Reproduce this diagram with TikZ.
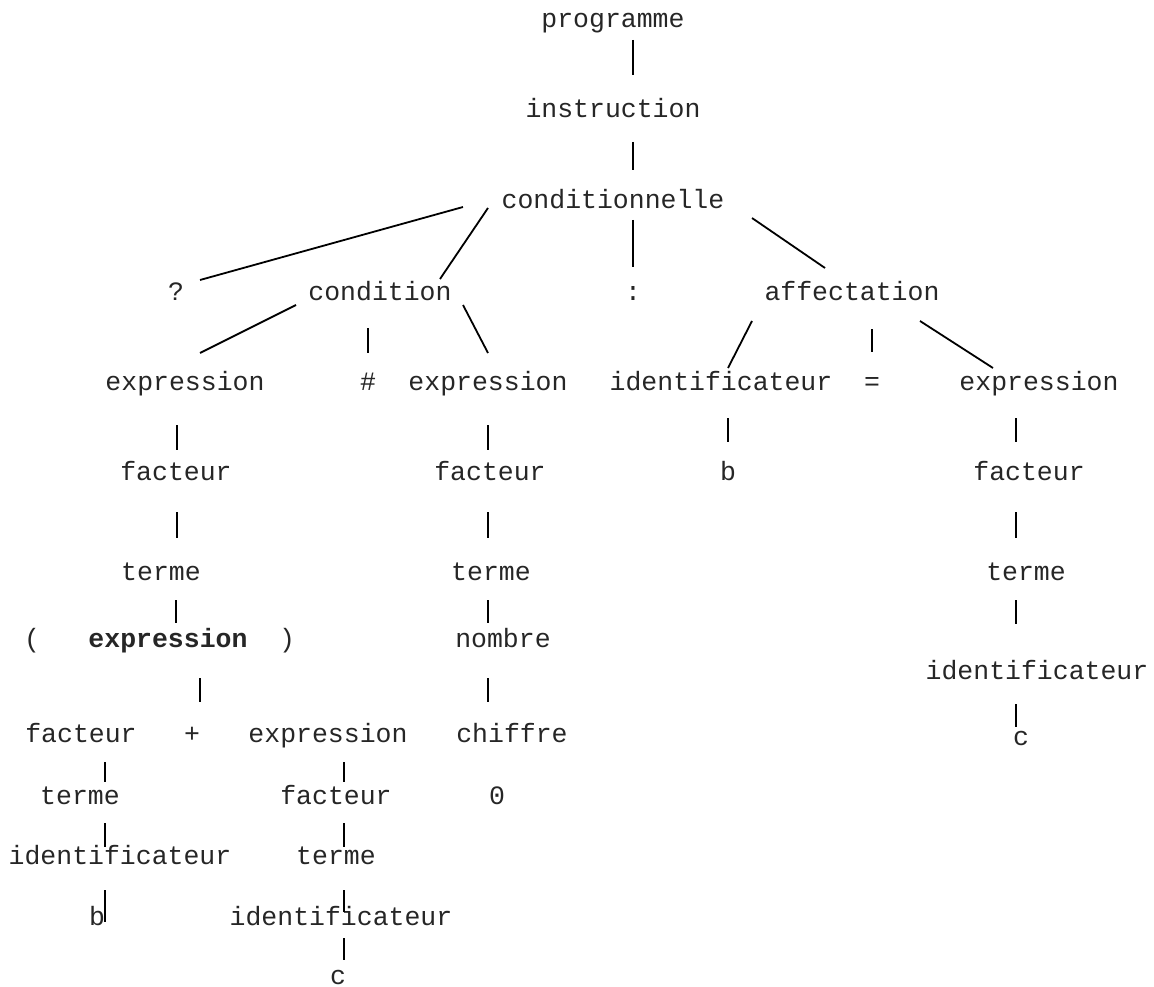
\documentclass[tikz,border=0pt]{standalone}
\usepackage{fontspec}
\setmonofont{Liberation Mono}
\begin{document}
\begin{tikzpicture}[x=1pt,y=-1pt,
  lbl/.style={anchor=base,inner sep=0pt,font=\fontsize{26.5}{30}\selectfont\ttfamily,text=black!85},
  edge/.style={line width=1.8pt,black}]
\useasboundingbox (0,0) rectangle (1154,987);
% nodes
\node[lbl] (prog) at (613,28) {programme};
\node[lbl] (instr) at (613,118) {instruction};
\node[lbl] (cond1) at (613,209) {conditionnelle};
\node[lbl] (q) at (176,300) {?};
\node[lbl] (cond) at (380,300) {condition};
\node[lbl] (colon) at (633,300) {:};
\node[lbl] (aff) at (852,300) {affectation};
\node[lbl] (e1) at (185,390) {expression};
\node[lbl] (hash) at (368,390) {\#};
\node[lbl] (e2) at (488,390) {expression};
\node[lbl] (id1) at (721,390) {identificateur};
\node[lbl] (eq) at (872,390) {=};
\node[lbl] (e3) at (1039,390) {expression};
\node[lbl] (f1) at (176,480) {facteur};
\node[lbl] (f2) at (490,480) {facteur};
\node[lbl] (b1) at (728,480) {b};
\node[lbl] (f3) at (1029,480) {facteur};
\node[lbl] (t1) at (161,580) {terme};
\node[lbl] (t2) at (491,580) {terme};
\node[lbl] (t3) at (1026,580) {terme};
\node[lbl] (lp) at (32,647) {(};
\node[lbl,font=\fontsize{26.5}{30}\selectfont\ttfamily\bfseries] (eb) at (168,647) {expression};
\node[lbl] (rp) at (287,647) {)};
\node[lbl] (nb) at (503,647) {nombre};
\node[lbl] (id2) at (1037,679) {identificateur};
\node[lbl] (f4) at (81,742) {facteur};
\node[lbl] (plus) at (192,742) {+};
\node[lbl] (e4) at (328,742) {expression};
\node[lbl] (ch) at (512,742) {chiffre};
\node[lbl] (c1) at (1021,745) {c};
\node[lbl] (t4) at (80,804) {terme};
\node[lbl] (f5) at (336,804) {facteur};
\node[lbl] (zero) at (497,804) {0};
\node[lbl] (id3) at (120,864) {identificateur};
\node[lbl] (t5) at (336,864) {terme};
\node[lbl] (b2) at (97,925) {b};
\node[lbl] (id4) at (341,925) {identificateur};
\node[lbl] (c2) at (338,984) {c};
% connectors
\draw[edge] (633,40) -- (633,75);
\draw[edge] (633,142) -- (633,170);
\draw[edge] (463,207) -- (200,280);
\draw[edge] (488,208) -- (440,279);
\draw[edge] (633,220) -- (633,267);
\draw[edge] (752,218) -- (825,268);
\draw[edge] (296,305) -- (200,353);
\draw[edge] (368,328) -- (368,353);
\draw[edge] (463,305) -- (488,353);
\draw[edge] (752,321) -- (728,368);
\draw[edge] (872,329) -- (872,352);
\draw[edge] (920,321) -- (993,368);
\draw[edge] (177,425) -- (177,450);
\draw[edge] (488,425) -- (488,450);
\draw[edge] (728,418) -- (728,442);
\draw[edge] (1016,418) -- (1016,442);
\draw[edge] (177,512) -- (177,538);
\draw[edge] (488,512) -- (488,538);
\draw[edge] (1016,512) -- (1016,538);
\draw[edge] (176,600) -- (176,623);
\draw[edge] (488,600) -- (488,623);
\draw[edge] (1016,600) -- (1016,624);
\draw[edge] (200,678) -- (200,702);
\draw[edge] (488,678) -- (488,702);
\draw[edge] (1016,704) -- (1016,727);
\draw[edge] (105,762) -- (105,782);
\draw[edge] (105,823) -- (105,847);
\draw[edge] (105,890) -- (105,922);
\draw[edge] (344,762) -- (344,782);
\draw[edge] (344,823) -- (344,847);
\draw[edge] (344,890) -- (344,912);
\draw[edge] (344,938) -- (344,960);
\end{tikzpicture}
\end{document}
